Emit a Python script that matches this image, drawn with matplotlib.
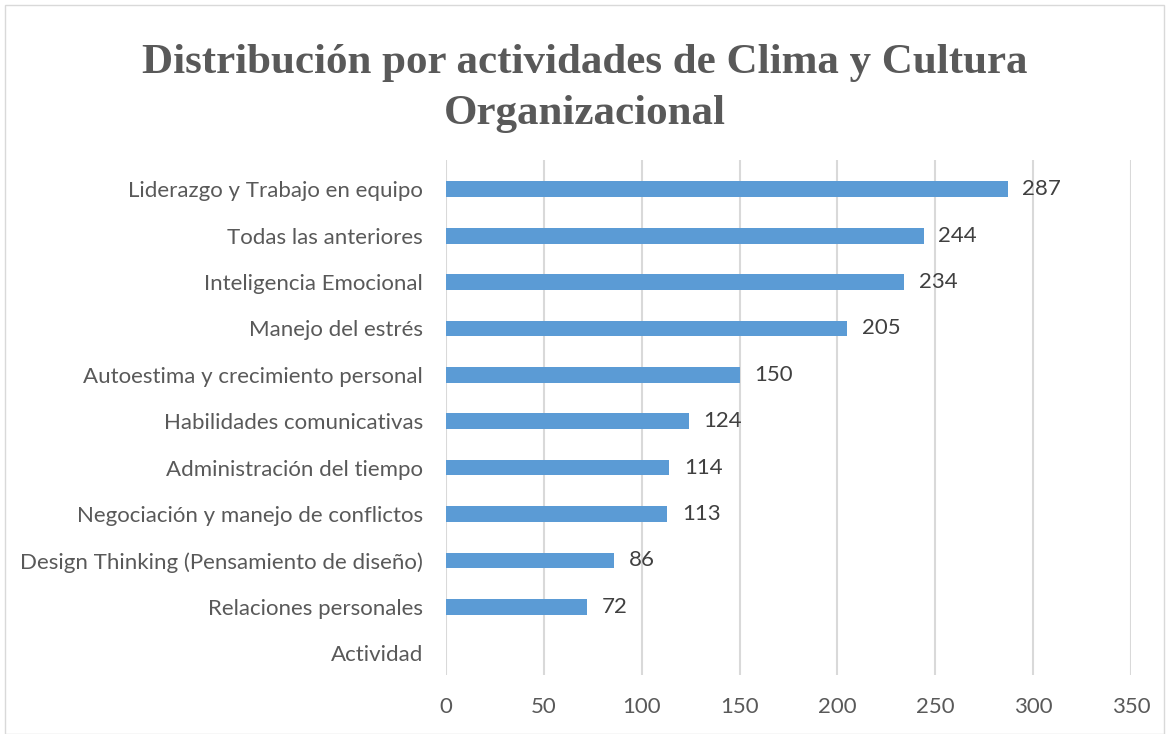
import matplotlib.pyplot as plt
from matplotlib.patches import Rectangle

# data, bottom to top as drawn
categorias = ['Actividad', 'Relaciones personales',
              'Design Thinking (Pensamiento de diseño)',
              'Negociación y manejo de conflictos',
              'Administración del tiempo', 'Habilidades comunicativas',
              'Autoestima y crecimiento personal', 'Manejo del estrés',
              'Inteligencia Emocional', 'Todas las anteriores',
              'Liderazgo y Trabajo en equipo']
valores = [None, 72, 86, 113, 114, 124, 150, 205, 234, 244, 287]
xticks = [0, 50, 100, 150, 200, 250, 300, 350]

gris = '#595959'
fs = 16
fig = plt.figure(figsize=(11.69, 7.34), dpi=100)
ax = fig.add_axes([0.3815, 0.0804, 0.586, 0.7016])

pos = list(range(len(categorias)))
for i, v in enumerate(valores):
    if v is None:
        continue
    ax.barh(pos[i], v, height=0.34, color='#5b9bd5', zorder=3)
    ax.text(v + 7.5, pos[i], str(v), va='center', ha='left',
            fontsize=fs, color='#404040', family='Lato')

ax.set_xlim(0, 350)
ax.set_ylim(-0.47, 10.63)
ax.set_xticks(xticks)
ax.set_xticklabels([str(t) for t in xticks], fontsize=fs, color=gris, family='Lato')
ax.set_yticks(pos)
ax.set_yticklabels(categorias, fontsize=fs, color=gris, family='Lato')
ax.tick_params(length=0)
ax.tick_params(axis='x', pad=16)
ax.tick_params(axis='y', pad=16.5)
ax.xaxis.grid(True, color='#d9d9d9', linewidth=1.5, zorder=0)
for s in ax.spines.values():
    s.set_visible(False)

fig.text(0.5, 0.88, 'Distribución por actividades de Clima y Cultura\nOrganizacional',
         ha='center', va='center', fontsize=31, fontweight='bold',
         color=gris, family='Liberation Serif', linespacing=1.45)

fig.patches.append(Rectangle((0.004, 0.0), 0.992, 0.993, transform=fig.transFigure,
                             fill=False, edgecolor='#d9d9d9', linewidth=1))

fig.savefig('out.png', dpi=100)
